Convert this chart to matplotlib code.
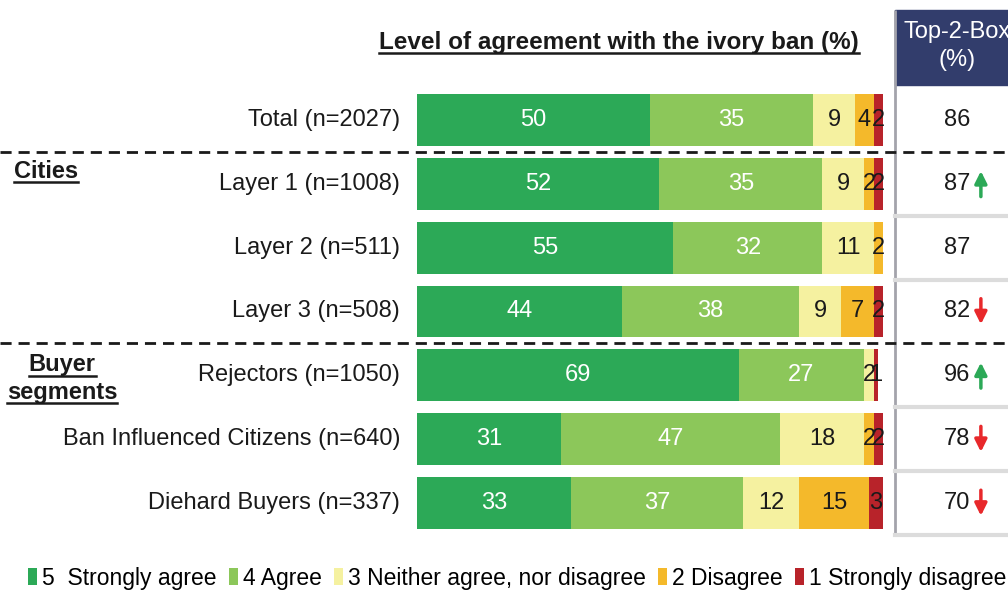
import matplotlib
matplotlib.use("Agg")
import matplotlib.pyplot as plt
from matplotlib.patches import Patch, Rectangle
from matplotlib.lines import Line2D
import matplotlib.transforms as mtransforms

plt.rcParams['font.family'] = ['Liberation Sans', 'DejaVu Sans']

# data
groups = ['Total (n=2027)', 'Layer 1 (n=1008)', 'Layer 2 (n=511)', 'Layer 3 (n=508)',
          'Rejectors (n=1050)', 'Ban Influenced Citizens (n=640)', 'Diehard Buyers (n=337)']
strongly_agree = [50, 52, 55, 44, 69, 31, 33]
agree = [35, 35, 32, 38, 27, 47, 37]
neither = [9, 9, 11, 9, 2, 18, 12]
disagree = [4, 2, 2, 7, 0, 2, 15]
strongly_disagree = [2, 2, 0, 2, 1, 2, 3]
top2box = [86, 87, 87, 82, 96, 78, 70]
trend = [0, 1, 0, -1, 1, -1, -1]  # 1 = up arrow, -1 = down arrow

series = [strongly_agree, agree, neither, disagree, strongly_disagree]
legend_labels = ['5  Strongly agree', '4 Agree', '3 Neither agree, nor disagree',
                 '2 Disagree', '1 Strongly disagree']
colors = ['#2CA957', '#8CC75A', '#F5F1A0', '#F4B92B', '#B8232A']
text_colors = ['white', 'white', '#1a1a1a', '#1a1a1a', '#1a1a1a']

FS = 17
W, H = 1008, 592
fig = plt.figure(figsize=(W / 100, H / 100), dpi=100)

# main bar axes: x=0 at 417px, x=100 at 883px; row i centred at 120 + 63.83*i px
step = 63.83
y_top = -120 / step
y_bot = (H - 120) / step
ax = fig.add_axes([417 / W, 0, 466 / W, 1])
ax.set_xlim(0, 100)
ax.set_ylim(y_bot, y_top)
ax.axis('off')

rows = list(range(len(groups)))
left = [0] * len(groups)
for vals, col, tc in zip(series, colors, text_colors):
    ax.barh(rows, vals, left=left, height=0.81, color=col, edgecolor='none')
    for i, (v, l) in enumerate(zip(vals, left)):
        if v > 0:
            ax.text(l + v / 2, i, str(v), ha='center', va='center',
                    fontsize=FS, color=tc)
    left = [a + b for a, b in zip(left, vals)]

for i, g in enumerate(groups):
    ax.text(-3.6, i, g, ha='right', va='center', fontsize=FS,
            color='#1a1a1a', clip_on=False)

# right panel with Top-2-Box values
ax2 = fig.add_axes([895 / W, 0, (W - 895) / W, 1])
ax2.set_xlim(0, 1)
ax2.set_ylim(y_bot, y_top)
ax2.axis('off')
hdr_top = (10 - 120) / step
hdr_bot = (85 - 120) / step
ax2.add_patch(Rectangle((0, hdr_bot), 1.2, hdr_top - hdr_bot, color='#323D6C',
                        clip_on=False))
ax2.text(0.55, (hdr_top + hdr_bot) / 2 - 0.02, 'Top-2-Box\n(%)', ha='center',
         va='center', fontsize=FS, color='white', linespacing=1.35)
ax2.plot([0, 0], [hdr_top, 6.5], color='#A3A3AB', lw=2, clip_on=False,
         solid_capstyle='butt')
for i in [1.5, 2.5, 4.5, 5.5, 6.5]:
    ax2.plot([0, 1], [i, i], color='#DCDCDC', lw=3, clip_on=False)
for i, (v, t) in enumerate(zip(top2box, trend)):
    ax2.text(0.55, i, str(v), ha='center', va='center', fontsize=FS, color='#1a1a1a')
    if t != 0:
        c = '#2CA957' if t > 0 else '#E8282B'
        y0, y1 = (i + 0.2, i - 0.2) if t > 0 else (i - 0.2, i + 0.2)
        ax2.annotate('', xy=(0.76, y1), xytext=(0.76, y0),
                     arrowprops=dict(arrowstyle='-|>', color=c, lw=2.5,
                                     mutation_scale=18, shrinkA=0, shrinkB=0))

# dashed separators across the whole figure
trans = mtransforms.blended_transform_factory(fig.transFigure, ax.transData)
for yy in [0.5, 3.5]:
    fig.add_artist(Line2D([0, 1], [yy, yy], transform=trans, color='#1a1a1a',
                          lw=2, linestyle=(0, (4, 2.5))))

# titles and group labels
title = fig.text(619 / W, 1 - 42 / H, 'Level of agreement with the ivory ban (%)',
                 ha='center', va='center', fontsize=17.5, fontweight='bold',
                 color='#1a1a1a')
cities = fig.text(14 / W, 1 - 171 / H, 'Cities', ha='left', va='center',
                  fontsize=FS, fontweight='bold', color='#1a1a1a')
buyer1 = fig.text(62 / W, 1 - 365 / H, 'Buyer', ha='center', va='center',
                  fontsize=FS, fontweight='bold', color='#1a1a1a')
buyer2 = fig.text(62 / W, 1 - 392 / H, 'segments', ha='center', va='center',
                  fontsize=FS, fontweight='bold', color='#1a1a1a')

fig.canvas.draw()
renderer = fig.canvas.get_renderer()
for t in [title, cities, buyer1, buyer2]:
    bb = t.get_window_extent(renderer)
    yline = (bb.y0 + 1) / H
    fig.add_artist(Line2D([bb.x0 / W, bb.x1 / W], [yline, yline],
                          transform=fig.transFigure, color='#1a1a1a', lw=1.8))

handles = [Patch(facecolor=c, edgecolor='none') for c in colors]
fig.legend(handles, legend_labels, loc='center left',
           bbox_to_anchor=(28 / W, 1 - 578 / H), ncol=5, frameon=False,
           fontsize=16.5, handlelength=0.4, handleheight=0.8, handletextpad=0.2,
           columnspacing=0.55, borderpad=0, borderaxespad=0)

fig.savefig('out.png', dpi=100)
